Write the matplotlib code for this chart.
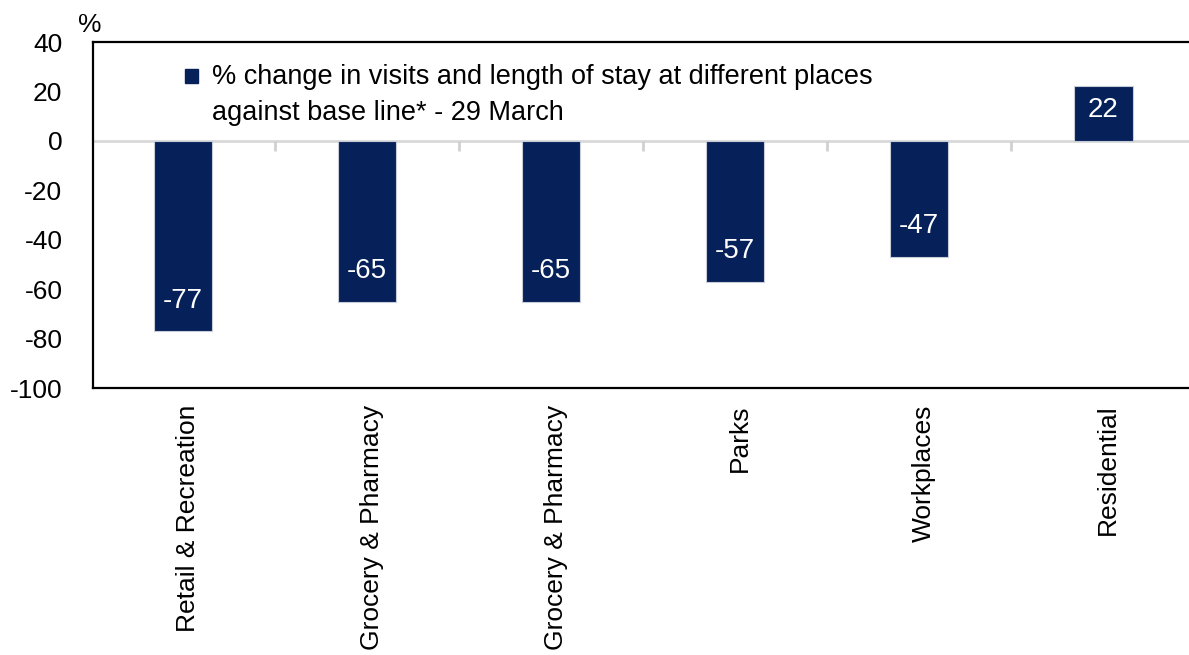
import matplotlib.pyplot as plt
from matplotlib.patches import Rectangle
from matplotlib.transforms import ScaledTranslation

plt.rcParams['font.family'] = ['Liberation Sans', 'DejaVu Sans']

places = ["Retail & Recreation", "Grocery & Pharmacy", "Grocery & Pharmacy",
          "Parks", "Workplaces", "Residential"]
change = [-77, -65, -65, -57, -47, 22]
yticks = [40, 20, 0, -20, -40, -60, -80, -100]
legend_label = "% change in visits and length of stay at different places\nagainst base line* - 29 March"

navy = '#06205A'
fs = 19

fig = plt.figure(figsize=(11.89, 6.55), dpi=100)
ax = fig.add_axes([93 / 1189, 1 - 388 / 655, 1 - 93 / 1189, 346 / 655])

x = list(range(len(places)))
ax.axhline(0, color='#d9d9d9', lw=2, zorder=1)
ax.vlines([i + 0.5 for i in x[:-1]], -4, 0, color='#d0d0d0', lw=2, zorder=1)
ax.bar(x, change, width=0.32, color=navy, edgecolor='#c8ccd6', linewidth=0.8, zorder=2)

for xi, v in zip(x, change):
    off = 22 if v < 0 else -17
    ax.annotate(str(v), (xi, v), xytext=(0, off), textcoords='offset points',
                ha='center', va='center', color='white', fontsize=20, zorder=3)

ax.set_xlim(-0.489, 5.467)
ax.set_ylim(-100, 40)
ax.set_yticks(yticks)
ax.set_yticklabels([str(t) for t in yticks], fontsize=fs)
ax.set_xticks(x)
ax.set_xticklabels(places, rotation=90, fontsize=fs, va='top', ha='center')
ax.tick_params(axis='y', length=0, pad=22)
ax.tick_params(axis='x', length=0, pad=12)
shift = ScaledTranslation(5 / 100, 0, fig.dpi_scale_trans)
for lab in ax.get_xticklabels():
    lab.set_transform(lab.get_transform() + shift)

for s in ['top', 'bottom', 'left']:
    ax.spines[s].set_linewidth(1.6)
    ax.spines[s].set_color('black')
ax.spines['right'].set_visible(False)

# legend drawn by hand so the square sits on the first line
ax.add_patch(Rectangle((0.0840, 0.882), 0.0115, 0.040, transform=ax.transAxes,
                       color=navy, clip_on=False))
ax.text(0.1086, 0.848, legend_label, transform=ax.transAxes, fontsize=19.5,
        ha='left', va='center', linespacing=1.5)

fig.text(78 / 1189, 1 - 25 / 655, "%", fontsize=fs, ha='left', va='center')

fig.savefig('out.png', dpi=100)
